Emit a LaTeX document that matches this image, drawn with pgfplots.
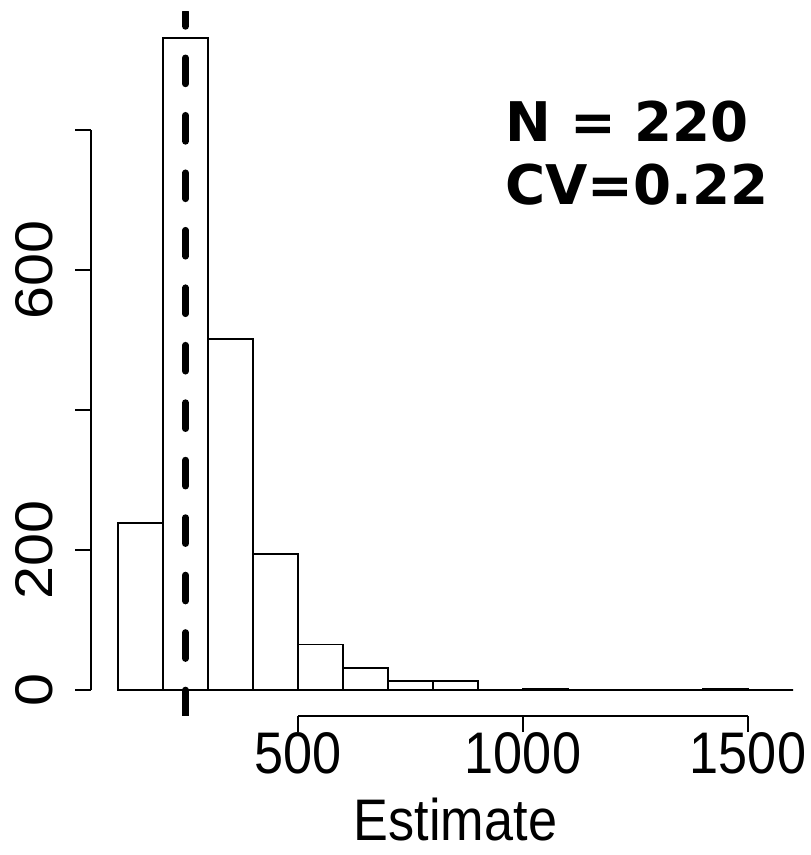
\documentclass[border=0pt]{standalone}
\usepackage{pgfplots}
\pgfplotsset{compat=1.18}
\usepackage{fontspec}
\newfontfamily\axisfontH{Liberation Sans}[FakeStretch=0.89]
\newfontfamily\axisfontV{Liberation Sans}[FakeStretch=1.12]
\newfontfamily\annfont{DejaVu Sans}
\begin{document}
\begin{tikzpicture}
\begin{axis}[
  at={(68.25pt,104.25pt)}, anchor=south west,
  scale only axis, width=546.75pt, height=528pt,
  xmin=40, xmax=1660, ymin=-37.24, ymax=968.24,
  axis x line=bottom, axis y line=left,
  axis line style={draw=none,-},
  clip mode=individual,
  xtick={500,1000,1500}, xticklabels={500,1000,1500},
  ytick={0,200,400,600,800}, yticklabels={0,200,,600,},
  tick align=outside, major tick length=12pt,
  major tick style={line width=1.2pt, black},
  xticklabel style={font=\axisfontH\fontsize{44}{50}\selectfont, anchor=north, inner sep=0pt},
  yticklabel style={font=\axisfontV\fontsize{39.75}{45}\selectfont, xshift=-16.5pt, rotate=90, anchor=south, inner sep=0pt},
  xlabel={Estimate},
  xlabel style={at={(axis description cs:0.5,0)}, anchor=base, yshift=-93pt, inner sep=0pt,
    font=\axisfontH\fontsize{44}{50}\selectfont},
]
\addplot[ybar interval, fill=white, draw=black, line width=1.3pt]
  coordinates {(100,238) (200,931) (300,501) (400,194) (500,65) (600,31) (700,13) (800,13)
    (900,0) (1000,2) (1100,0) (1200,0) (1300,0) (1400,2) (1500,0) (1600,0)};
\addplot[black, line width=5pt, line cap=round, dash pattern=on 19.5pt off 23.6pt]
  coordinates {(250,-37.24) (250,968.24)};
\draw[line width=1.2pt] (axis cs:500,-37.24) -- (axis cs:1500,-37.24);
\draw[line width=1.2pt] (axis cs:40,0) -- (axis cs:40,800);
\node[anchor=base west, inner sep=0pt, font=\annfont\bfseries\fontsize{41}{48}\selectfont]
  at (axis cs:960,782.9) {N = 220};
\node[anchor=base west, inner sep=0pt, font=\annfont\bfseries\fontsize{41}{48}\selectfont]
  at (axis cs:960,692.9) {CV=0.22};
\end{axis}
\pgfresetboundingbox
\path (0,0) rectangle (607.5pt,641.25pt);
\end{tikzpicture}
\end{document}
